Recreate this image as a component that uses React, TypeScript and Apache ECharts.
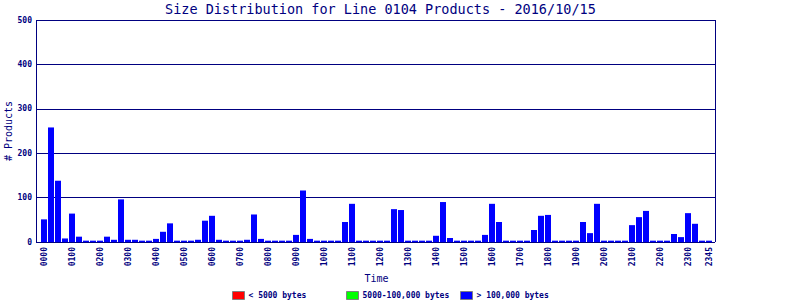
import React, { useEffect, useRef } from "react";
import * as echarts from "echarts";

const hours: string[] = ["00","01","02","03","04","05","06","07","08","09","10","11","12","13","14","15","16","17","18","19","20","21","22","23"];
const quarters: string[] = ["00", "15", "30", "45"];
const categories: string[] = hours.flatMap((h) => quarters.map((q) => h + q));

const smallCounts: number[] = [];
const mediumCounts: number[] = [];
const largeCounts: number[] = [
  51, 258, 138, 8, 64, 12, 3, 3, 3, 12, 5, 96,
  5, 5, 3, 3, 7, 23, 42, 3, 3, 3, 5, 48,
  59, 5, 3, 3, 3, 5, 62, 7, 3, 3, 3, 3,
  16, 116, 7, 3, 3, 3, 3, 45, 86, 3, 3, 3,
  3, 3, 74, 72, 3, 3, 3, 3, 14, 90, 9, 3,
  3, 3, 3, 16, 86, 45, 3, 3, 3, 3, 27, 59,
  61, 3, 3, 3, 3, 45, 20, 86, 3, 3, 3, 3,
  38, 56, 70, 3, 3, 3, 18, 11, 65, 41, 3, 3,
];
const yTicks: number[] = [0, 100, 200, 300, 400, 500];

const seriesNames = ["< 5000 bytes", "5000-100,000 bytes", "> 100,000 bytes"];
const seriesColors = ["#ff0000", "#00ff00", "#0000ff"];

const NAVY = "#000080";
const MONO = "DejaVu Sans Mono, monospace";

export default function App() {
  const ref = useRef<HTMLDivElement>(null);
  useEffect(() => {
    if (!ref.current) return;
    const chart = echarts.init(ref.current, null, { renderer: "svg" });
    const legendLefts = [232, 346, 460];
    chart.setOption({
      animation: false,
      backgroundColor: "#ffffff",
      title: {
        text: "Size Distribution for Line 0104 Products - 2016/10/15",
        left: 160,
        top: -3,
        textStyle: { fontFamily: MONO, fontSize: 13.5, fontWeight: "normal", color: NAVY },
      },
      legend: seriesNames.map((n, i) => ({
        data: [n],
        left: legendLefts[i],
        top: 291,
        itemWidth: 12,
        itemHeight: 8,
        icon: "rect",
        itemGap: 0,
        padding: 0,
        selectedMode: false,
        textStyle: { fontFamily: MONO, fontSize: 8, fontWeight: "bold", color: NAVY, padding: [0, 0, 0, -1] },
        itemStyle: { borderColor: "#808080", borderWidth: 1 },
      })),
      grid: [
        { left: 36, top: 20, width: 679, height: 222, outerBoundsMode: "none", containLabel: false },
        { left: 40.5, top: 20, width: 672, height: 222, outerBoundsMode: "none", containLabel: false },
      ],
      xAxis: [
        {
          gridIndex: 0,
          type: "value",
          min: 0,
          max: 1,
          interval: 1,
          axisLabel: { show: false },
          axisLine: { show: false },
          axisTick: { show: false },
          splitLine: { show: true, lineStyle: { color: NAVY, width: 1 } },
        },
        {
          gridIndex: 1,
          type: "category",
          data: categories,
          boundaryGap: true,
          axisLine: { show: false },
          axisTick: { show: false },
          axisLabel: {
            interval: (i: number) => i % 4 === 0 || i === categories.length - 1,
            rotate: 90,
            margin: 5,
            fontFamily: MONO,
            fontSize: 8,
            fontWeight: "bold",
            color: NAVY,
          },
          name: "Time",
          nameLocation: "middle",
          nameGap: 31,
          nameMoveOverlap: false,
          nameTextStyle: { fontFamily: MONO, fontSize: 10, color: NAVY },
        },
      ],
      yAxis: [
        {
          gridIndex: 0,
          type: "value",
          min: yTicks[0],
          max: yTicks[yTicks.length - 1],
          interval: 100,
          axisLine: { show: false },
          axisTick: { show: false },
          axisLabel: { margin: 4, fontFamily: MONO, fontSize: 8, fontWeight: "bold", color: NAVY },
          splitLine: { show: true, lineStyle: { color: NAVY, width: 1 } },
          name: "# Products",
          nameLocation: "middle",
          nameGap: 23,
          nameMoveOverlap: false,
          nameTextStyle: { fontFamily: MONO, fontSize: 10, color: NAVY },
        },
        {
          gridIndex: 1,
          type: "value",
          min: 0,
          max: 500,
          interval: 100,
          show: false,
        },
      ],
      series: [smallCounts, mediumCounts, largeCounts].map((d, i) => ({
        name: seriesNames[i],
        type: "bar",
        xAxisIndex: 1,
        yAxisIndex: 1,
        stack: "total",
        barWidth: 6,
        data: d,
        itemStyle: { color: seriesColors[i] },
      })),
    });
    return () => chart.dispose();
  }, []);
  return <div ref={ref} style={{ width: 800, height: 300, position: "absolute", left: 0, top: 0 }} />;
}
